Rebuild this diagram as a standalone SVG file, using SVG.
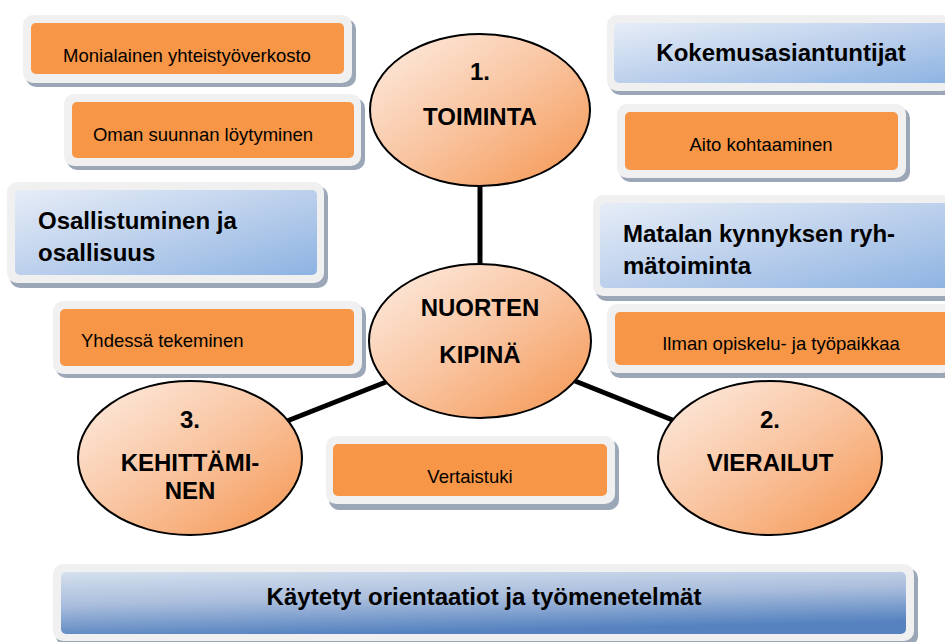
<svg xmlns="http://www.w3.org/2000/svg" width="945" height="642" viewBox="0 0 945 642">
<defs>
<linearGradient id="gOval" x1="0" y1="0" x2="1" y2="1">
<stop offset="0" stop-color="#fdeee4"/>
<stop offset="0.5" stop-color="#f9c4a0"/>
<stop offset="1" stop-color="#f5954f"/>
</linearGradient>
<linearGradient id="gBlue" x1="0" y1="0" x2="1" y2="1">
<stop offset="0" stop-color="#e6edf7"/>
<stop offset="0.5" stop-color="#bcd0ec"/>
<stop offset="1" stop-color="#8db3e2"/>
</linearGradient>
<linearGradient id="gBlueDark" x1="0" y1="0" x2="0.3" y2="1">
<stop offset="0" stop-color="#d5e0ee"/>
<stop offset="0.5" stop-color="#a9bddc"/>
<stop offset="1" stop-color="#5683c0"/>
</linearGradient>
</defs>
<style>
.frame{fill:#f0f0f0}
.shadow{fill:#9ba7b7}
.org{fill:#f79646}
.blue{fill:url(#gBlue)}
.bdark{fill:url(#gBlueDark)}
.oval{fill:url(#gOval);stroke:#000;stroke-width:2}
.t{font-family:"Liberation Sans",Arial,sans-serif;font-size:18.5px;fill:#000}
.b{font-family:"Liberation Sans",Arial,sans-serif;font-size:24px;font-weight:bold;fill:#000}
.c{text-anchor:middle}
.conn{stroke:#000;stroke-width:5;fill:none}
</style>
<rect width="945" height="642" fill="#fff"/>

<g id="connectors">
<line class="conn" x1="480" y1="186" x2="480" y2="264"/>
<line class="conn" x1="386" y1="382" x2="287" y2="421"/>
<line class="conn" x1="575" y1="381" x2="675" y2="421"/>
</g>

<g id="box-monialainen">
<rect class="shadow" x="26" y="19" width="330" height="68" rx="10"/>
<rect class="frame" x="23" y="15" width="329" height="68" rx="10"/>
<rect class="org" x="31" y="23" width="313" height="51" rx="5"/>
<text class="t c" x="187" y="62">Monialainen yhteistyöverkosto</text>
</g>

<g id="box-oman">
<rect class="shadow" x="67" y="98" width="298" height="72" rx="10"/>
<rect class="frame" x="64" y="94" width="297" height="72" rx="10"/>
<rect class="org" x="72" y="102" width="282" height="56" rx="5"/>
<text class="t c" x="203" y="141">Oman suunnan löytyminen</text>
</g>

<g id="box-osallistuminen">
<rect class="shadow" x="10" y="186" width="318" height="102" rx="10"/>
<rect class="frame" x="7" y="182" width="317" height="101" rx="10"/>
<rect class="blue" x="15" y="190" width="302" height="85" rx="5"/>
<text class="b" x="38" y="229">Osallistuminen ja</text>
<text class="b" x="38" y="261">osallisuus</text>
</g>

<g id="box-kokemus">
<rect class="shadow" x="610" y="19" width="345" height="76" rx="10"/>
<rect class="frame" x="607" y="15" width="345" height="76" rx="10"/>
<rect class="blue" x="614" y="23" width="340" height="60" rx="5"/>
<text class="b c" x="781" y="61">Kokemusasiantuntijat</text>
</g>

<g id="box-aito">
<rect class="shadow" x="620" y="108" width="290" height="74" rx="10"/>
<rect class="frame" x="617" y="104" width="289" height="74" rx="10"/>
<rect class="org" x="625" y="112" width="273" height="58" rx="5"/>
<text class="t c" x="761" y="151">Aito kohtaaminen</text>
</g>

<g id="box-matalan">
<rect class="shadow" x="596" y="199" width="360" height="102" rx="10"/>
<rect class="frame" x="593" y="195" width="360" height="101" rx="10"/>
<rect class="blue" x="600" y="203" width="354" height="85" rx="5"/>
<text class="b" x="623" y="242">Matalan kynnyksen ryh-</text>
<text class="b" x="623" y="274">mätoiminta</text>
</g>

<g id="box-ilman">
<rect class="shadow" x="610" y="308" width="345" height="70" rx="10"/>
<rect class="frame" x="607" y="304" width="345" height="69" rx="10"/>
<rect class="org" x="615" y="312" width="340" height="53" rx="5"/>
<text class="t c" x="781" y="350">Ilman opiskelu- ja työpaikkaa</text>
</g>

<g id="box-yhdessa">
<rect class="shadow" x="56" y="305" width="310" height="73" rx="10"/>
<rect class="frame" x="53" y="301" width="309" height="73" rx="10"/>
<rect class="org" x="60" y="309" width="294" height="57" rx="5"/>
<text class="t" x="81" y="347">Yhdessä tekeminen</text>
</g>

<g id="box-vertaistuki">
<rect class="shadow" x="329" y="440" width="290" height="70" rx="10"/>
<rect class="frame" x="326" y="436" width="289" height="68" rx="10"/>
<rect class="org" x="333" y="444" width="274" height="52" rx="5"/>
<text class="t c" x="470" y="483">Vertaistuki</text>
</g>

<g id="box-kaytetyt">
<rect class="shadow" x="56" y="568" width="862" height="78" rx="10"/>
<rect class="frame" x="53" y="564" width="861" height="77" rx="10"/>
<rect class="bdark" x="61" y="572" width="845" height="62" rx="5"/>
<text class="b c" x="484" y="605">Käytetyt orientaatiot ja työmenetelmät</text>
</g>

<g id="node-toiminta">
<ellipse class="oval" cx="480" cy="110" rx="110" ry="76"/>
<text class="b c" x="480" y="80">1.</text>
<text class="b c" x="480" y="125">TOIMINTA</text>
</g>

<g id="node-nuorten">
<ellipse class="oval" cx="480" cy="341" rx="111" ry="77"/>
<text class="b c" x="480" y="316">NUORTEN</text>
<text class="b c" x="480" y="363">KIPINÄ</text>
</g>

<g id="node-kehittaminen">
<ellipse class="oval" cx="190" cy="458" rx="112" ry="77"/>
<text class="b c" x="190" y="428">3.</text>
<text class="b c" x="190" y="471">KEHITTÄMI-</text>
<text class="b c" x="190" y="499">NEN</text>
</g>

<g id="node-vierailut">
<ellipse class="oval" cx="770" cy="458" rx="112" ry="77"/>
<text class="b c" x="770" y="428">2.</text>
<text class="b c" x="770" y="471">VIERAILUT</text>
</g>
</svg>
